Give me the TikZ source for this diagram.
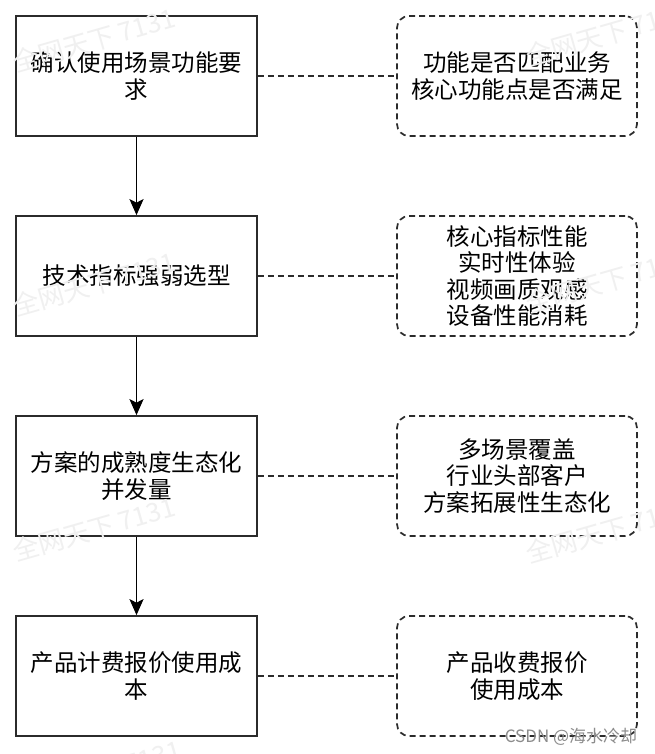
\documentclass[tikz,border=0pt]{standalone}
\usepackage{fontspec}
\newfontfamily\cjk{Noto Sans CJK SC}
\usetikzlibrary{arrows.meta}
\definecolor{edge}{HTML}{2B2B2B}
\tikzset{
  stepbox/.style={draw=edge, line width=1.7pt, fill=white, minimum width=241pt, minimum height=120pt, inner sep=0pt, align=center, font=\cjk\fontsize{23.5pt}{27pt}\selectfont},
  notebox/.style={draw=edge, line width=1.7pt, dash pattern=on 6pt off 4pt, rounded corners=12pt, fill=white, minimum width=240pt, minimum height=120pt, inner sep=0pt, align=center, font=\cjk\fontsize{23.5pt}{26.5pt}\selectfont},
  flow/.style={draw=black, line width=1.8pt, -{Stealth[length=16pt, width=14pt, inset=3.5pt]}},
  link/.style={draw=edge, line width=1.7pt, dash pattern=on 6pt off 4pt},
  wmark/.style={text=black!6, rotate=16, font=\cjk\fontsize{26pt}{28pt}\selectfont, inner sep=0pt},
  csdn/.style={text=black!45, font=\cjk\fontsize{17pt}{19pt}\selectfont, inner sep=0pt}
}
\begin{document}
\begin{tikzpicture}[x=1pt, y=-1pt]
\useasboundingbox (0,0) rectangle (654,754);
\fill[white] (0,0) rectangle (654,754);
% left column
\node[stepbox] (s1) at (136.5,76) {确认使用场景功能要\\求};
\node[stepbox] (s2) at (136.5,276) {技术指标强弱选型};
\node[stepbox] (s3) at (136.5,476) {方案的成熟度生态化\\并发量};
\node[stepbox] (s4) at (136.5,676) {产品计费报价使用成\\本};
% right column
\node[notebox] (n1) at (517,76) {功能是否匹配业务\\核心功能点是否满足};
\node[notebox] (n2) at (517,276) {核心指标性能\\实时性体验\\视频画质观感\\设备性能消耗};
\node[notebox] (n3) at (517,476) {多场景覆盖\\行业头部客户\\方案拓展性生态化};
\node[notebox] (n4) at (517,676) {产品收费报价\\使用成本};
% connectors
\draw[flow] (s1) -- (s2);
\draw[flow] (s2) -- (s3);
\draw[flow] (s3) -- (s4);
\draw[link] (s1) -- (n1);
\draw[link] (s2) -- (n2);
\draw[link] (s3) -- (n3);
\draw[link] (s4) -- (n4);
% watermarks
\node[wmark] (w1) at (94,40) {全网天下 7131};
\node[wmark] (w2) at (94,284) {全网天下 7131};
\node[wmark] (w3) at (94,529) {全网天下 7131};
\node[wmark] (w4) at (100,772) {全网天下 7131};
\node[wmark] (w5) at (607,34) {全网天下 7131};
\node[wmark] (w6) at (607,281) {全网天下 7131};
\node[wmark] (w7) at (607,531) {全网天下 7131};
\node[csdn] (c) at (571,737) {CSDN @海水冷却};
\end{tikzpicture}
\end{document}
